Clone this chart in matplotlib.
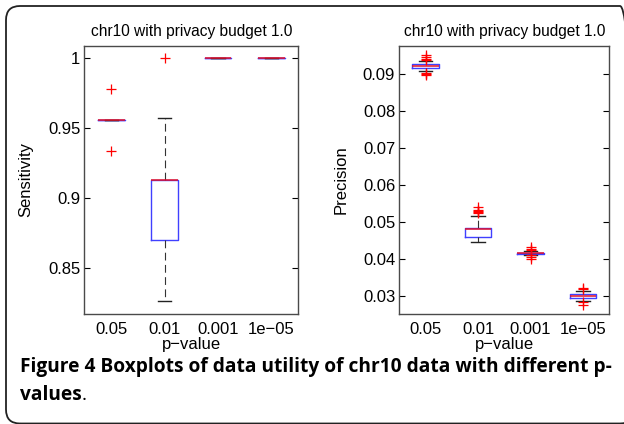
#boxplots de sensibilidade e precisao para o chr10
import matplotlib
matplotlib.use("Agg")
import matplotlib.pyplot as plt
from matplotlib.patches import FancyBboxPatch
from matplotlib.transforms import IdentityTransform
from matplotlib.ticker import FormatStrFormatter

#rotulos do eixo x (p-values)
pvalores = ["0.05", "0.01", "0.001", "1e\u221205"]

#estatisticas: sensibilidade
sens_mediana = [0.9555, 0.9126, 1.0, 1.0]
sens_q1 = [0.9555, 0.8698, 1.0, 1.0]
sens_q3 = [0.9555, 0.9126, 1.0, 1.0]
sens_whislo = [0.9555, 0.8262, 1.0, 1.0]
sens_whishi = [0.9555, 0.9567, 1.0, 1.0]
sens_outliers = [[0.9776, 0.9333], [1.0], [], []]

#estatisticas: precisao
prec_mediana = [0.0921, 0.0481, 0.04157, 0.0300]
prec_q1 = [0.09152, 0.04583, 0.0414, 0.02945]
prec_q3 = [0.09271, 0.04827, 0.0417, 0.03035]
prec_whislo = [0.0907, 0.04447, 0.0411, 0.02864]
prec_whishi = [0.0936, 0.0516, 0.0420, 0.03117]
prec_outliers = [
    [0.0952, 0.0947, 0.0942, 0.0938, 0.0904, 0.0901, 0.0897],
    [0.0541, 0.0533, 0.0529, 0.0526, 0.0523],
    [0.0432, 0.0427, 0.0423, 0.0409, 0.0405, 0.0400],
    [0.0322, 0.0318, 0.0282, 0.0276],
]

titulo = "chr10 with privacy budget 1.0"
legenda_negrito = "Figure 4 Boxplots of data utility of chr10 data with different p-"


def monta_stats(med, q1, q3, lo, hi, out):
    stats = []
    for i in range(len(med)):
        stats.append({"med": med[i], "q1": q1[i], "q3": q3[i],
                      "whislo": lo[i], "whishi": hi[i], "fliers": out[i]})
    return stats


def desenha(ax, stats, ylim, yticks, ylabel):
    ax.bxp(stats, positions=[1, 2, 3, 4], widths=0.5, capwidths=0.25,
           boxprops=dict(color=(0.25, 0.25, 1.0), linewidth=1.0),
           medianprops=dict(color="#e0102a", linewidth=1.1),
           whiskerprops=dict(color="#333333", linewidth=0.8, linestyle=(0, (7, 4))),
           capprops=dict(color="#222222", linewidth=1.0),
           flierprops=dict(marker="+", markeredgecolor="red", markersize=7,
                           markeredgewidth=0.9, linestyle="none"))
    ax.set_xlim(0.5, 4.5)
    ax.set_ylim(*ylim)
    ax.set_yticks(yticks)
    ax.yaxis.set_major_formatter(FormatStrFormatter("%g"))
    ax.set_xticks([1, 2, 3, 4])
    ax.set_xticklabels(pvalores)
    ax.tick_params(axis="y", direction="in", right=True, length=4, labelsize=12, pad=3)
    ax.tick_params(axis="x", length=0, labelsize=12, pad=6)
    for s in ax.spines.values():
        s.set_color("#4a4a4a")
        s.set_linewidth(1.0)
    ax.set_title(titulo, fontsize=11.2, pad=7)
    ax.set_xlabel("p\u2212value", fontsize=12, labelpad=0)
    ax.set_ylabel(ylabel, fontsize=12)
    ax.yaxis.set_label_coords(-0.242, 0.5)


plt.rcParams["font.family"] = ["Liberation Sans", "DejaVu Sans"]
fig = plt.figure(figsize=(6.24, 4.24), dpi=100)

ax1 = fig.add_axes([0.1354, 0.2606, 0.3421, 0.6309])
desenha(ax1, monta_stats(sens_mediana, sens_q1, sens_q3, sens_whislo, sens_whishi, sens_outliers),
        (0.8176, 1.0084), [0.85, 0.9, 0.95, 1.0], "Sensitivity")

ax2 = fig.add_axes([0.6399, 0.2606, 0.3365, 0.6309])
desenha(ax2, monta_stats(prec_mediana, prec_q1, prec_q3, prec_whislo, prec_whishi, prec_outliers),
        (0.0252, 0.0976), [0.03, 0.04, 0.05, 0.06, 0.07, 0.08, 0.09], "Precision")

#moldura arredondada em volta da figura (em pixels), cortada na direita e embaixo
moldura = FancyBboxPatch((6, 0.5), 628, 417.5, boxstyle="round,pad=0,rounding_size=14",
                         transform=IdentityTransform(), fill=False,
                         edgecolor="#222222", linewidth=1.3, clip_on=False)
fig.patches.append(moldura)

#legenda da figura
fig.text(20 / 624, 1 - 367 / 424, legenda_negrito, fontsize=13.8, fontweight="bold",
         family="Open Sans", va="center", ha="left")
t = fig.text(20 / 624, 1 - 395 / 424, "values", fontsize=13.8, fontweight="bold",
             family="Open Sans", va="center", ha="left")
r = fig.canvas.get_renderer()
bb = t.get_window_extent(r)
fig.text(bb.x1 / 624, 1 - 395 / 424, ".", fontsize=13.8, family="Open Sans",
         va="center", ha="left")

fig.savefig("out.png", dpi=100)
